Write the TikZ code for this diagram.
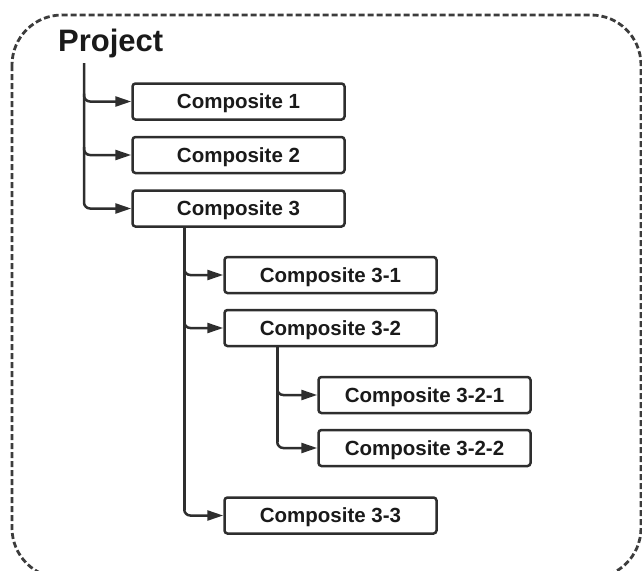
\documentclass[tikz,border=0pt]{standalone}
\usepackage{fontspec}
\setmainfont{Liberation Sans}
\usetikzlibrary{arrows.meta,calc}
\definecolor{ink}{HTML}{2E2E2E}
\definecolor{txt}{HTML}{1A1A1A}
\definecolor{dashc}{HTML}{3C3C3C}
\tikzset{
  x=1pt,y=-1pt,
  cbox/.style={draw=ink, line width=2.5pt, rounded corners=3pt, fill=white,
    minimum width=212pt, minimum height=36pt, inner sep=0pt,
    text height=14.7pt, text depth=0pt,
    font=\fontsize{20.5}{24}\selectfont\bfseries, text=txt},
  link/.style={draw=ink, line width=2.5pt, rounded corners=6pt,
    -{Triangle[length=16pt,width=10pt]}},
  trunk/.style={draw=ink, line width=2.5pt},
  frame/.style={draw=dashc, line width=2.8pt, dash pattern=on 6pt off 3pt, rounded corners=50pt}
}
\begin{document}
\begin{tikzpicture}
\useasboundingbox (0,0) rectangle (642,570);
\begin{scope}
\clip (0,0) rectangle (642,570);
\draw[frame] (12,15) rectangle (641,578);
\end{scope}

\node[anchor=base west, font=\fontsize{31}{36}\selectfont\bfseries, text=txt, inner sep=0pt] (project) at (58,51) {Project};

\node[cbox] (c1) at (238.5,101.5) {Composite 1};
\node[cbox] (c2) at (238.5,155) {Composite 2};
\node[cbox] (c3) at (238.5,208.5) {Composite 3};
\node[cbox] (c31) at (330.5,275) {Composite 3-1};
\node[cbox] (c32) at (330.5,328) {Composite 3-2};
\node[cbox] (c321) at (424.5,395) {Composite 3-2-1};
\node[cbox] (c322) at (424.5,448) {Composite 3-2-2};
\node[cbox] (c33) at (330.5,515.5) {Composite 3-3};

\coordinate (p0) at (84,63);
\coordinate (q0) at ($(c3.south west)+(53,0)$);
\coordinate (r0) at ($(c32.south west)+(54,0)$);

% Project branches
\draw[trunk] (p0) -- ($(p0|-c3.west)+(0,-6)$);
\draw[link] ($(p0|-c1.west)+(0,-8)$) |- (c1.west);
\draw[link] ($(p0|-c2.west)+(0,-8)$) |- (c2.west);
\draw[link] (p0) |- (c3.west);

% Composite 3 branches
\draw[trunk] (q0) -- ($(q0|-c33.west)+(0,-6)$);
\draw[link] ($(q0|-c31.west)+(0,-8)$) |- (c31.west);
\draw[link] ($(q0|-c32.west)+(0,-8)$) |- (c32.west);
\draw[link] (q0) |- (c33.west);

% Composite 3-2 branches
\draw[trunk] (r0) -- ($(r0|-c322.west)+(0,-6)$);
\draw[link] ($(r0|-c321.west)+(0,-8)$) |- (c321.west);
\draw[link] (r0) |- (c322.west);
\end{tikzpicture}
\end{document}
